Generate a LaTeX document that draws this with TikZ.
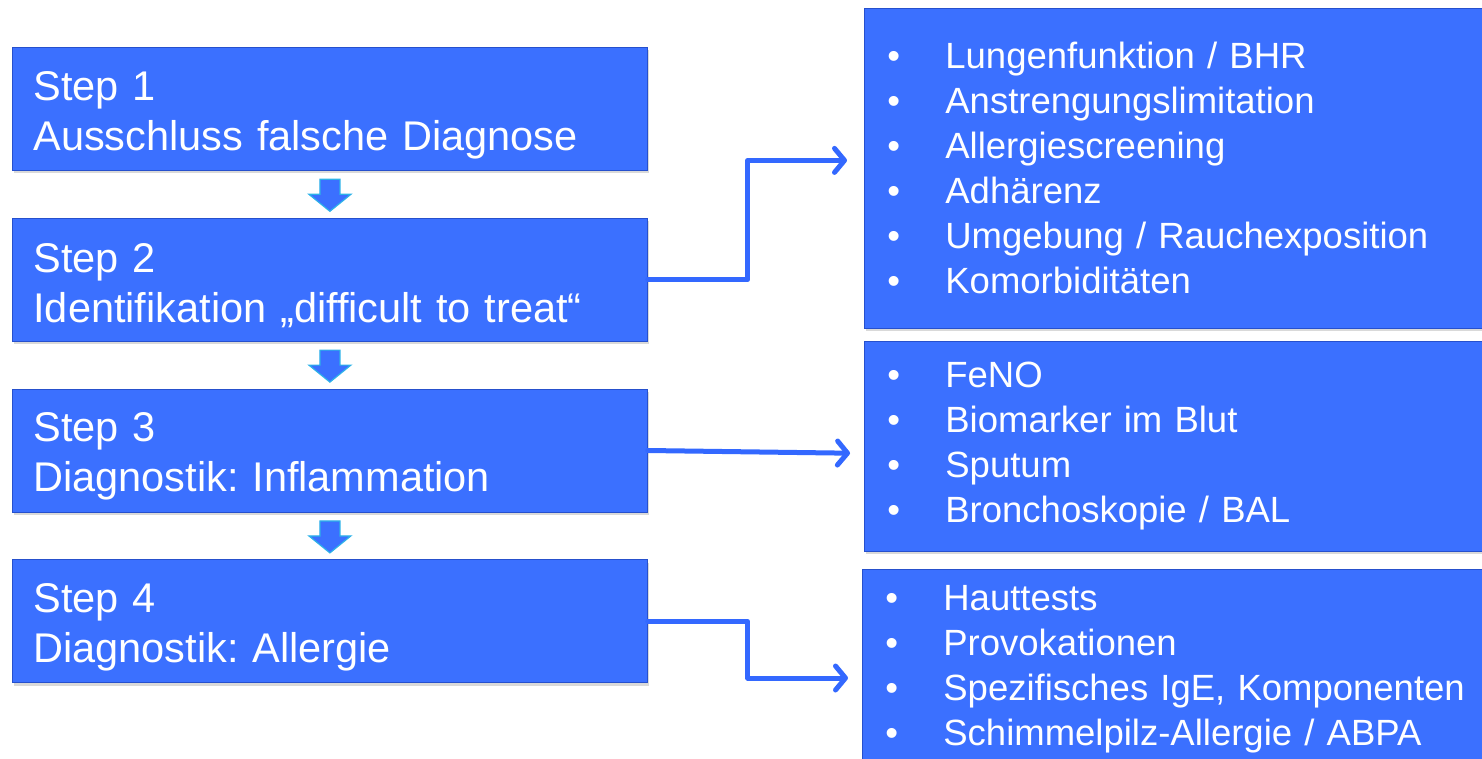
\documentclass[tikz,border=0pt]{standalone}
\usepackage{fontspec}
\setmainfont{Liberation Sans}
\usetikzlibrary{arrows.meta,positioning,calc,shadows}
\definecolor{stepblue}{RGB}{59,112,255}
\definecolor{stepedge}{RGB}{38,80,205}
\definecolor{linkblue}{RGB}{51,104,255}
\definecolor{arrowrim}{RGB}{45,178,232}
\newcommand{\itembul}{\makebox[58pt][l]{•}}
\frenchspacing

\begin{document}
\begin{tikzpicture}[x=1pt, y=-1pt, every node/.style={text=white},
    stepbox/.style={draw=stepedge, line width=0.8pt, fill=stepblue,
      drop shadow={opacity=0.3, shadow xshift=2pt, shadow yshift=-3pt},
      text width=593pt, inner xsep=21pt, minimum height=123pt, align=left,
      font=\fontsize{41.5pt}{50pt}\selectfont,
      execute at begin node={\rule{0pt}{41pt}}},
    detailbox/.style={draw=stepedge, line width=0.8pt, fill=stepblue,
      drop shadow={opacity=0.3, shadow xshift=2pt, shadow yshift=-3pt},
      text width=594pt, inner xsep=23pt, align=left,
      font=\fontsize{36.5pt}{45pt}\selectfont},
    downarr/.style={draw=arrowrim, line width=1.2pt, fill=stepblue},
    link/.style={draw=linkblue, line width=5pt, line join=round, line cap=round,
      -{Straight Barb[length=10pt, width=24pt, round]}}]
    \useasboundingbox (0,0) rectangle (1482,758);

    \node[stepbox, anchor=north west] (step1) at (12,47) {
      Step 1\\
      Ausschluss falsche Diagnose
    };
    \node[stepbox, below=47pt of step1] (step2) {
      Step 2\\
      Identifikation „difficult to treat“
    };
    \node[stepbox, below=47pt of step2] (step3) {
      Step 3\\
      Diagnostik: Inflammation
    };
    \node[stepbox, below=47pt of step3] (step4) {
      Step 4\\
      Diagnostik: Allergie
    };

    \node[detailbox, anchor=north west, minimum height=320pt] (det2) at (864,8) {
      \itembul Lungenfunktion / BHR\\
      \itembul Anstrengungslimitation\\
      \itembul Allergiescreening\\
      \itembul Adhärenz\\
      \itembul Umgebung / Rauchexposition\\
      \itembul Komorbiditäten
    };
    \node[detailbox, below=12pt of det2, minimum height=210pt] (det3) {
      \itembul FeNO\\
      \itembul Biomarker im Blut\\
      \itembul Sputum\\
      \itembul Bronchoskopie / BAL
    };
    \node[detailbox, below=17pt of det3, minimum height=200pt, xshift=-2pt] (det4) {
      \itembul Hauttests\\
      \itembul Provokationen\\
      \itembul Spezifisches IgE, Komponenten\\
      \itembul Schimmelpilz-Allergie / ABPA
    };

    \foreach \a/\b in {step1/step2, step2/step3, step3/step4} {
      \coordinate (m\a) at ($(\a.south)!0.5!(\b.north)$);
      \draw[downarr, shift={(m\a)}] (-10,-15) -- (10,-15) -- (10,0) -- (21,0)
        -- (0,17) -- (-21,0) -- (-10,0) -- cycle;
    }

    \coordinate (tipA) at ([xshift=-17pt, yshift=8pt]det2.west);
    \coordinate (tipB) at ([xshift=-14pt, yshift=-7pt]det3.west);
    \coordinate (tipC) at ([xshift=-14pt, yshift=-9pt]det4.west);
    \draw[link] (step2.east) -- ++(100,0) |- (tipA);
    \draw[link] (step3.east) -- (tipB);
    \draw[link] (step4.east) -- ++(100,0) |- (tipC);
\end{tikzpicture}
\end{document}
